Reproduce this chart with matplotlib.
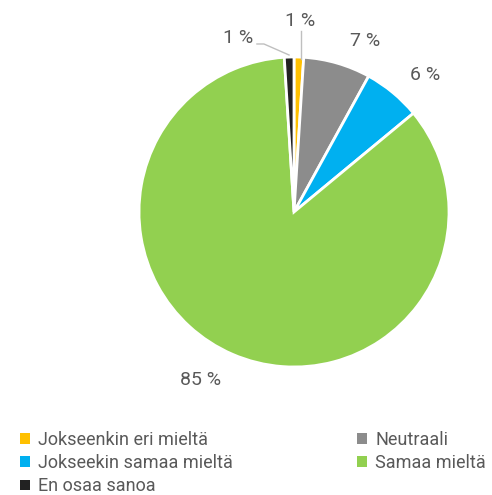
import matplotlib
matplotlib.use("Agg")
import matplotlib.pyplot as plt
from matplotlib.patches import Patch

categories = ["Jokseenkin eri mieltä", "Neutraali", "Jokseekin samaa mieltä", "Samaa mieltä", "En osaa sanoa"]
values = [1, 7, 6, 85, 1]
labels = ["1 %", "7 %", "6 %", "85 %", "1 %"]
colors = ["#FFC000", "#8C8C8C", "#00B0F0", "#92D050", "#222222"]

FONT = ["Roboto", "DejaVu Sans"]
TXT = "#595959"

fig = plt.figure(figsize=(4.92, 4.95), dpi=100)
cx, cy, r = 294 / 492, 1 - 212 / 495, 155
ax = fig.add_axes([cx - r / 492, cy - r / 495, 2 * r / 492, 2 * r / 495])
wedges, _ = ax.pie(values, colors=colors, startangle=90, counterclock=False,
                   radius=1, wedgeprops=dict(edgecolor="white", linewidth=2))
ax.set_xlim(-1, 1)
ax.set_ylim(-1, 1)
ax.set_aspect("equal")
ax.axis("off")

label_pos = [(0.039, 1.235), (0.458, 1.10), (0.845, 0.885), (-0.606, -1.085), (-0.361, 1.125)]
for (x, y), t in zip(label_pos, labels):
    ax.text(x, y, t, ha="center", va="center", fontsize=14, color=TXT, family=FONT, clip_on=False)

# leader lines
ax.plot([0.045, 0.045], [0.99, 1.17], color="#BFBFBF", lw=1, clip_on=False)
ax.plot([-0.239, -0.194, -0.032], [1.084, 1.084, 1.013], color="#BFBFBF", lw=1, clip_on=False)

order = [0, 2, 4, 1, 3]
handles = [Patch(facecolor=colors[i], edgecolor="none") for i in order]
leg = fig.legend(handles, [categories[i] for i in order], ncol=2,
                 loc="upper left", bbox_to_anchor=(0.007, 0.163),
                 frameon=False, handlelength=0.55, handleheight=0.55,
                 handletextpad=0.45, labelspacing=0.3, columnspacing=6.9,
                 prop=dict(family=FONT, size=13))
for t in leg.get_texts():
    t.set_color(TXT)

fig.savefig("out.png", dpi=100)
